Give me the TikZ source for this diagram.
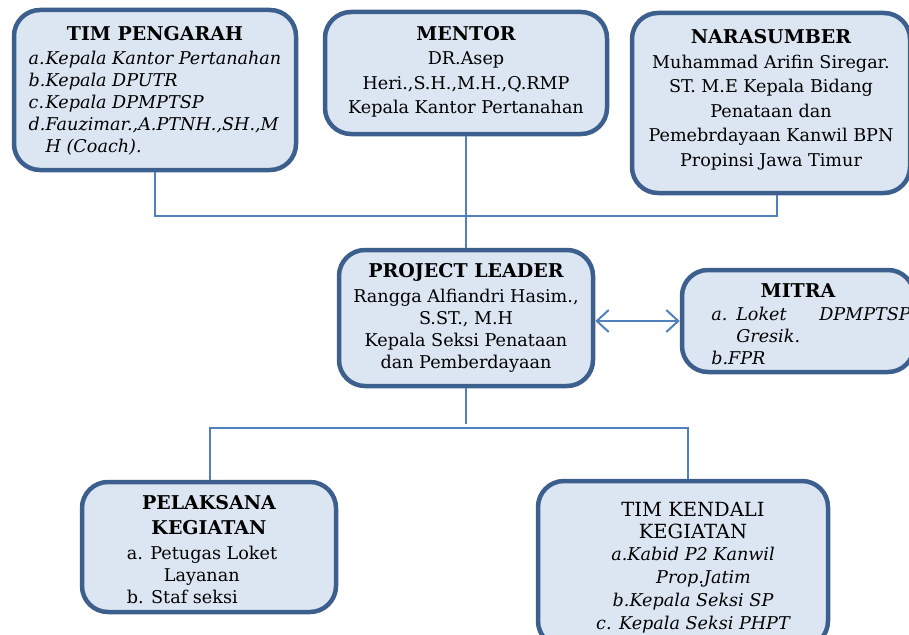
\documentclass[tikz,border=0pt]{standalone}
\usepackage{fontspec}
\setmainfont{DejaVu Serif}
\usetikzlibrary{arrows.meta}

\definecolor{boxedge}{HTML}{3C5F8E}
\definecolor{boxfill}{HTML}{DCE6F2}
\definecolor{linkblue}{HTML}{4F81BD}
\newcommand{\orgtext}{\fontsize{17.6}{22}\selectfont}
\newcommand{\orgwide}{\fontsize{17.6}{24.5}\selectfont}
\newcommand{\orghead}[1]{{\fontsize{19}{22}\selectfont\bfseries #1}}
\newcommand{\orgplain}[1]{{\fontsize{19.5}{22}\selectfont #1}}
\newcommand{\orgdepth}[1]{\rule[-#1]{0pt}{#1}}
\newcommand{\orgtop}[1]{\rule{0pt}{#1}}

\tikzset{
	orgbox/.style={draw=boxedge, fill=boxfill, line width=4.5pt, rounded corners=26pt,
		inner sep=0pt, align=center, font=\orgtext},
	link/.style={draw=linkblue, line width=2pt},
	barbs/.style={{Straight Barb[length=12pt,width=22pt]}-{Straight Barb[length=12pt,width=22pt]}},
}

\begin{document}
\begin{tikzpicture}[x=1pt,y=-1pt]
	\useasboundingbox (0,0) rectangle (909,634);
	% top row
	\node[orgbox, minimum width=282, minimum height=160] (pengarah) at (155,90)
		{\orgtop{20pt}\orghead{TIM PENGARAH}\\[2pt]
		 \itshape\begin{tabular}[t]{@{}p{17pt}@{}l@{}}
		 a. & Kepala Kantor Pertanahan\\
		 b. & Kepala DPUTR\\
		 c. & Kepala DPMPTSP\\
		 d. & Fauzimar.,A.PTNH.,SH.,M\\
		    & H (Coach).
		 \end{tabular}};
	\node[orgbox, font=\orgwide, minimum width=282, minimum height=122] (mentor) at (466,73)
		{\orghead{MENTOR}\\ DR.Asep\\ Heri.,S.H.,M.H.,Q.RMP\\
		 Kepala Kantor Pertanahan\orgdepth{6pt}};
	\node[orgbox, font=\orgwide, minimum width=278, minimum height=180] (narasumber) at (771,103)
		{\orghead{NARASUMBER}\\ Muhammad Arifin Siregar.\\ ST. M.E Kepala Bidang\\
		 Penataan dan\\ Pemebrdayaan Kanwil BPN\\ Propinsi Jawa Timur\orgdepth{10pt}};
	% middle row
	\node[orgbox, minimum width=254, minimum height=136] (leader) at (466,318)
		{\orghead{PROJECT LEADER}\\[3pt] Rangga Alfiandri Hasim.,\\ S.ST., M.H\\
		 Kepala Seksi Penataan\\ dan Pemberdayaan};
	\node[orgbox, minimum width=232, minimum height=102] (mitra) at (798,321)
		{\orgtop{26pt}\orghead{MITRA}\\[1pt]
		 \itshape\begin{tabular}[t]{@{\hspace{26pt}}l@{}}
		 \makebox[25pt][l]{a.}\makebox[83pt][l]{Loket}DPMPTSP\\
		 \hspace{25pt}Gresik.\\
		 b.FPR
		 \end{tabular}};
	% bottom row
	\node[orgbox, minimum width=254, minimum height=130] (pelaksana) at (209,547)
		{\orgtop{26pt}\orghead{PELAKSANA}\\[3pt] \orghead{KEGIATAN}\\[3pt]
		 \begin{tabular}[t]{@{}l@{\hspace{14pt}}}
		 a. Petugas Loket\\
		 \hspace{37pt}Layanan\\
		 b. Staf seksi
		 \end{tabular}};
	\node[orgbox, minimum width=290, minimum height=166] (kendali) at (683,564)
		{\begin{tabular}{@{\hspace{20pt}}c@{}}
		 \orgtop{24pt}\orgplain{TIM KENDALI}\\ \orgplain{KEGIATAN}\\
		 \itshape a.Kabid P2 Kanwil\\[1pt] \itshape\hspace{1.2em}Prop.Jatim\\[1pt]
		 \itshape b.Kepala Seksi SP\\[1pt] \itshape c. Kepala Seksi PHPT
		 \end{tabular}};
	% connectors
	\coordinate (topbus) at (466,216);
	\coordinate (lowbus) at (466,428);
	\draw[link] (pengarah.south) |- (topbus) -| ([xshift=6pt]narasumber.south);
	\draw[link] (mentor.south) -- (leader.north);
	\draw[link] (leader.south) -- ([yshift=4pt]lowbus);
	\draw[link] ([xshift=1pt]pelaksana.north) |- (lowbus) -| ([xshift=5pt]kendali.north);
	\draw[link, barbs] (leader.east |- mitra.west) -- (mitra.west);
\end{tikzpicture}
\end{document}
